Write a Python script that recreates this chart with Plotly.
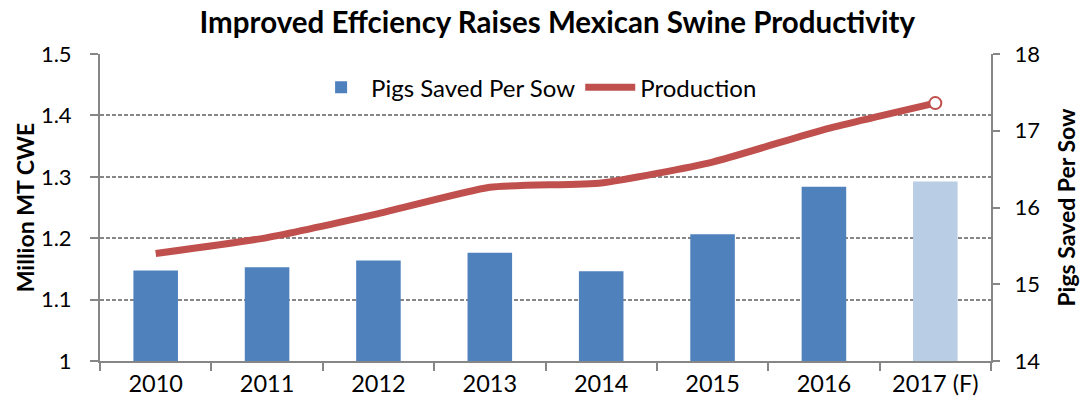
import plotly.graph_objects as go

years = ["2010", "2011", "2012", "2013", "2014", "2015", "2016", "2017 (F)"]
pigs_saved = [15.18, 15.22, 15.31, 15.41, 15.17, 15.65, 16.27, 16.34]
production = [1.175, 1.201, 1.240, 1.283, 1.290, 1.324, 1.377, 1.420]
bar_colors = ["#4F81BD"] * 7 + ["#B9CDE5"]
left_ticks = [1, 1.1, 1.2, 1.3, 1.4, 1.5]
left_labels = ["1", "1.1", "1.2", "1.3", "1.4", "1.5"]
right_ticks = [14, 15, 16, 17, 18]

FONT = "Lato"
GRAY = "#868686"

fig = go.Figure()
fig.add_trace(go.Bar(
    x=years, y=pigs_saved, name="Pigs Saved Per Sow", yaxis="y2",
    marker=dict(color=bar_colors, line=dict(width=0)), width=0.4,
))
fig.add_trace(go.Scatter(
    x=years, y=production, name="Production", mode="lines",
    line=dict(color="#C0504D", width=7, shape="spline", smoothing=0.5),
))
fig.add_trace(go.Scatter(
    x=years[-1:], y=production[-1:], mode="markers", showlegend=False,
    marker=dict(size=12, color="white", line=dict(color="#C0504D", width=2)),
))

fig.update_layout(
    width=1080, height=408,
    margin=dict(l=100, r=89, t=54, b=47, autoexpand=False),
    paper_bgcolor="white", plot_bgcolor="white",
    font=dict(family=FONT, size=24, color="black"),
    title=dict(text="<b>Improved Effciency Raises Mexican Swine Productivity</b>",
               x=0.516, xanchor="center", y=0.945, yanchor="middle",
               font=dict(family=FONT, size=29.5, color="black")),
    showlegend=True,
    legend=dict(orientation="h", x=0.49, xanchor="center", y=0.89, yanchor="middle",
                font=dict(size=24), bgcolor="rgba(0,0,0,0)", itemwidth=50),
    bargap=0.6,
    xaxis=dict(type="category", showline=True, linecolor=GRAY, linewidth=2,
               ticks="outside", tickson="boundaries", ticklen=8, tickcolor=GRAY,
               tickwidth=2, showgrid=False, tickfont=dict(size=23.5),
               ticklabelstandoff=1, automargin=False),
    yaxis=dict(range=[1, 1.5], tickvals=left_ticks, ticktext=left_labels,
               showline=True, linecolor=GRAY, linewidth=2,
               ticks="outside", ticklen=8, tickcolor=GRAY, tickwidth=2,
               showgrid=True, gridcolor=GRAY, griddash="4px,2px", gridwidth=1.5,
               zeroline=False, tickfont=dict(size=22), ticklabelstandoff=14,
               automargin=False,
               title=dict(text="<b>Million MT CWE</b>", font=dict(size=23), standoff=0)),
    yaxis2=dict(range=[14, 18], tickvals=right_ticks, overlaying="y", side="right",
                showline=True, linecolor=GRAY, linewidth=2,
                ticks="outside", ticklen=7, tickcolor=GRAY, tickwidth=2,
                showgrid=False, zeroline=False, tickfont=dict(size=22),
                ticklabelstandoff=10, automargin=False,
                title=dict(text="<b>Pigs Saved Per Sow</b>", font=dict(size=23), standoff=20)),
)

fig.write_html("out.html", config={"displayModeBar": False},
               post_script="document.body.style.margin='0';")
